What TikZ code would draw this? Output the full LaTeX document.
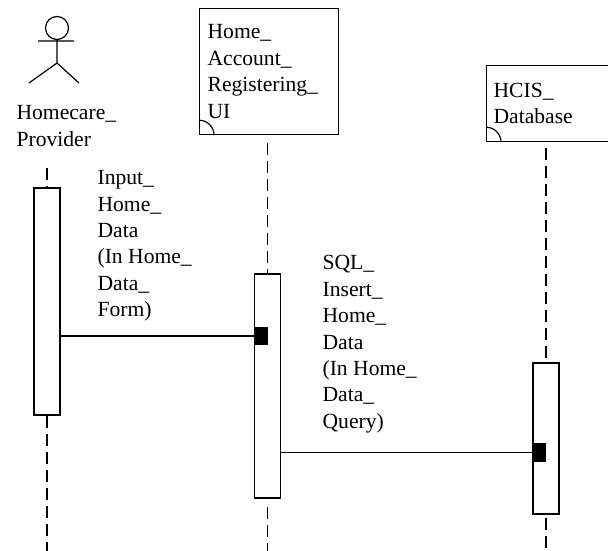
\documentclass[tikz,border=0pt]{standalone}
\usepackage{fontspec}
\setmainfont{Liberation Serif}
\usetikzlibrary{positioning}

\begin{document}
\begin{tikzpicture}[x=0.5pt,y=-0.5pt,line width=0.6pt,
        every node/.style={font=\fontsize{10.8}{13.2}\selectfont},
        lbl/.style={anchor=north west,align=left,inner sep=0pt},
        headbox/.style={draw,anchor=north west,align=left,inner ysep=0pt},
        actbox/.style={draw,fill=white,minimum width=13pt,inner sep=0pt},
        blk/.style={fill=black,anchor=west,minimum width=6.5pt,inner sep=0pt},
        life/.style={dash pattern=on 6pt off 3pt}]
    \useasboundingbox (0,0) rectangle (608,550);

    % actor
    \draw (57,28) circle[radius=5.75pt];
    \draw (38,41) -- (74,41) (57,39.5) -- (57,63) -- (29,83) (57,63) -- (79,83);
    \node[lbl] (actorname) at (16,105) {Homecare\_\\Provider};

    % heads
    \node[headbox,minimum width=69.5pt,minimum height=63pt,text width=61.5pt,inner xsep=4pt] (ui) at (199,8)
        {Home\_\\Account\_\\Registering\_\\UI};
    \node[headbox,minimum height=38pt,text width=63pt,inner xsep=3.5pt] (db) at (486,65)
        {HCIS\_\\Database};
    \draw ([xshift=7.5pt]ui.south west) arc[start angle=0,end angle=90,radius=7.5pt];
    \draw ([xshift=7.5pt]db.south west) arc[start angle=0,end angle=90,radius=7.5pt];

    % activations
    \node[actbox,minimum height=113.5pt] (act1) at (47,301.5) {};
    \node[actbox,minimum height=112pt] (act2) at (267.5,386) {};
    \node[actbox,minimum height=75.5pt] (act3) at (546,438.5) {};

    \coordinate (actortop) at (47,168);
    \coordinate (uitop) at (267.5,143);
    \coordinate (dbtop) at (546,148);
    \coordinate (actorend) at (47,552);
    \coordinate (uiend) at (267.5,552);
    \coordinate (dbend) at (546,552);

    \path[life]
    (actortop) edge (act1.north)
    (act1.south) edge (actorend)
    (uitop) edge (act2.north)
    ([yshift=-4pt]act2.south) edge (uiend)
    (dbtop) edge (act3.north)
    ([yshift=-1.5pt]act3.south) edge (dbend);

    % messages
    \node[blk,minimum height=9pt] (recv1) at (act2.west |- 0,336) {};
    \node[blk,minimum height=9.5pt] (recv2) at (act3.west |- 0,452.5) {};
    \path
    (act1.east |- recv1) edge (recv1.west)
    (act2.east |- recv2) edge (recv2.west);

    \node[lbl] (msg1) at (97,170) {Input\_\\Home\_\\Data\\(In Home\_\\Data\_\\Form)};
    \node[lbl] (msg2) at (322,255) {SQL\_\\Insert\_\\Home\_\\Data\\(In Home\_\\Data\_\\Query)};
\end{tikzpicture}
\end{document}
